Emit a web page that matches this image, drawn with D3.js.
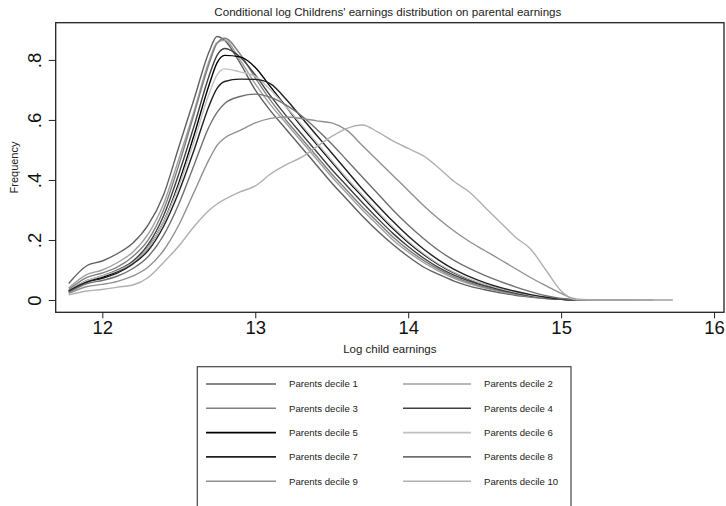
<!DOCTYPE html>
<html>
<head>
<meta charset="utf-8">
<script src="https://cdn.jsdelivr.net/npm/d3@7"></script>
<style>
html,body{margin:0;padding:0;background:#fff;}
svg{display:block;font-family:"Liberation Sans",Arial,Helvetica,sans-serif;}
</style>
</head>
<body>
<svg id="chart" width="726" height="506"></svg>
<script>
// ---- data ----
const xGrid = [11.78,11.9,12.0,12.1,12.2,12.3,12.4,12.5,12.6,12.7,12.75,12.8,12.9,13.0,13.1,13.2,13.3,13.4,13.5,13.6,13.7,13.8,13.9,14.0,14.1,14.2,14.3,14.4,14.5,14.6,14.7,14.8,14.9,15.0,15.1,15.3,15.5,15.73];

const decile1  = [0.055,0.115,0.13,0.155,0.19,0.25,0.35,0.51,0.67,0.83,0.878,0.865,0.79,0.70,0.63,0.57,0.51,0.45,0.39,0.335,0.28,0.23,0.185,0.145,0.11,0.085,0.063,0.046,0.034,0.024,0.016,0.01,0.005,0.002,0,0,0,0];
const decile2  = [0.04,0.085,0.1,0.125,0.16,0.22,0.32,0.47,0.63,0.8,0.858,0.865,0.8,0.72,0.65,0.59,0.53,0.47,0.41,0.355,0.3,0.25,0.2,0.16,0.125,0.096,0.072,0.054,0.04,0.028,0.019,0.012,0.006,0.002,0,0,0,0];
const decile3  = [0.035,0.075,0.09,0.11,0.145,0.2,0.3,0.45,0.62,0.79,0.855,0.872,0.82,0.74,0.665,0.6,0.54,0.48,0.42,0.365,0.31,0.26,0.21,0.168,0.132,0.102,0.077,0.058,0.043,0.031,0.021,0.013,0.006,0.002,0,0,0,0];
const decile4  = [0.03,0.065,0.08,0.1,0.13,0.185,0.28,0.42,0.58,0.75,0.815,0.838,0.81,0.75,0.68,0.615,0.555,0.495,0.435,0.38,0.325,0.272,0.222,0.178,0.14,0.108,0.083,0.063,0.047,0.034,0.023,0.014,0.007,0.002,0,0,0,0];
const decile5  = [0.028,0.06,0.075,0.095,0.125,0.175,0.26,0.39,0.55,0.72,0.79,0.815,0.81,0.775,0.71,0.645,0.58,0.52,0.46,0.4,0.345,0.29,0.238,0.192,0.152,0.118,0.09,0.068,0.051,0.037,0.025,0.016,0.008,0.003,0,0,0,0];
const decile6  = [0.03,0.065,0.08,0.098,0.125,0.175,0.26,0.38,0.53,0.69,0.75,0.77,0.76,0.745,0.7,0.645,0.585,0.525,0.465,0.405,0.35,0.295,0.243,0.196,0.155,0.12,0.092,0.07,0.052,0.038,0.026,0.016,0.008,0.003,0,0,0,0];
const decile7  = [0.03,0.06,0.072,0.09,0.12,0.165,0.245,0.36,0.5,0.65,0.705,0.728,0.736,0.735,0.72,0.67,0.61,0.55,0.49,0.43,0.37,0.315,0.262,0.213,0.17,0.133,0.102,0.078,0.058,0.042,0.029,0.018,0.009,0.003,0,0,0,0];
const decile8  = [0.025,0.055,0.065,0.08,0.105,0.145,0.215,0.32,0.45,0.58,0.625,0.655,0.678,0.686,0.675,0.65,0.615,0.57,0.52,0.465,0.41,0.355,0.3,0.25,0.205,0.165,0.132,0.105,0.082,0.062,0.044,0.028,0.014,0.005,0.001,0,0,0];
const decile9  = [0.022,0.045,0.052,0.062,0.08,0.11,0.165,0.25,0.36,0.47,0.515,0.54,0.565,0.59,0.605,0.61,0.605,0.597,0.59,0.565,0.515,0.465,0.415,0.365,0.315,0.27,0.23,0.195,0.165,0.135,0.105,0.075,0.048,0.022,0.003,0,0,0];
const decile10 = [0.017,0.03,0.035,0.043,0.05,0.075,0.125,0.18,0.245,0.3,0.32,0.335,0.36,0.38,0.42,0.45,0.475,0.51,0.545,0.572,0.583,0.56,0.53,0.505,0.48,0.44,0.395,0.36,0.31,0.26,0.21,0.17,0.1,0.03,0.001,0,0,0];

// last x of each curve's flat tail
const tailEnd = [15.3,15.35,15.4,15.45,15.5,15.73,15.5,15.6,15.6,15.73];

const seriesNames = ["Parents decile 1","Parents decile 2","Parents decile 3","Parents decile 4","Parents decile 5",
                     "Parents decile 6","Parents decile 7","Parents decile 8","Parents decile 9","Parents decile 10"];
const seriesValues = [decile1,decile2,decile3,decile4,decile5,decile6,decile7,decile8,decile9,decile10];
const seriesColors = ["#606060","#a0a0a0","#808080","#404040","#000000","#c0c0c0","#202020","#707070","#909090","#b0b0b0"];

const xTicks = [12,13,14,15,16];
const yTicks = [0,0.2,0.4,0.6,0.8];
const yTickLabels = ["0",".2",".4",".6",".8"];

const titleText = "Conditional log Childrens' earnings distribution on parental earnings";
const xTitle = "Log child earnings";
const yTitle = "Frequency";

// ---- layout ----
const svg = d3.select("#chart");
const plot = {left:55.7, right:724, top:22.7, bottom:312.3};

const x = d3.scaleLinear().domain([11.695,16.065]).range([plot.left, plot.right]);
const y = d3.scaleLinear().domain([-0.041,0.924]).range([plot.bottom, plot.top]);

// title
svg.append("text").attr("x",(plot.left+plot.right)/2 - 2).attr("y",16)
  .attr("text-anchor","middle").attr("font-size",11.6).attr("fill","#222").text(titleText);

// lines
const line = d3.line().x(d=>x(d[0])).y(d=>y(d[1])).curve(d3.curveMonotoneX);
const gLines = svg.append("g");
seriesValues.forEach((vals,i)=>{
  const pts = [];
  xGrid.forEach((xv,j)=>{ if (xv < tailEnd[i]) pts.push([xv, vals[j]]); });
  pts.push([tailEnd[i], 0]);
  gLines.append("path").datum(pts).attr("d",line)
    .attr("fill","none").attr("stroke",seriesColors[i]).attr("stroke-width",1.4)
    .attr("stroke-linejoin","round");
});

// frame
svg.append("rect").attr("x",plot.left).attr("y",plot.top)
  .attr("width",plot.right-plot.left).attr("height",plot.bottom-plot.top)
  .attr("fill","none").attr("stroke","#222").attr("stroke-width",1.3);

// x axis
const xAxis = d3.axisBottom(x).tickValues(xTicks).tickFormat(d3.format("d")).tickSize(6).tickPadding(3);
const gx = svg.append("g").attr("transform",`translate(0,${plot.bottom})`).call(xAxis);
gx.select(".domain").remove();
gx.selectAll(".tick line").attr("stroke","#222");
gx.selectAll(".tick text").attr("font-size",18.5).attr("fill","#111").attr("font-family","Liberation Sans, Arial, sans-serif");

// y axis
const yAxis = d3.axisLeft(y).tickValues(yTicks).tickFormat((d,i)=>yTickLabels[i]).tickSize(7);
const gy = svg.append("g").attr("transform",`translate(${plot.left},0)`).call(yAxis);
gy.select(".domain").remove();
gy.selectAll(".tick line").attr("stroke","#222");
gy.selectAll(".tick text")
  .attr("font-size",18.5).attr("fill","#111").attr("font-family","Liberation Sans, Arial, sans-serif")
  .attr("x",null).attr("dy",null)
  .attr("text-anchor","middle")
  .attr("transform","translate(-15,0) rotate(-90)");

// axis titles
svg.append("text").attr("x",(plot.left+plot.right)/2).attr("y",353)
  .attr("text-anchor","middle").attr("font-size",11.5).attr("fill","#222").text(xTitle);
svg.append("text").attr("transform",`translate(18,${(plot.top+plot.bottom)/2}) rotate(-90)`)
  .attr("text-anchor","middle").attr("font-size",11).attr("fill","#222").text(yTitle);

// legend
const leg = {left:197.3, top:366.7, right:571};
svg.append("rect").attr("x",leg.left).attr("y",leg.top).attr("width",leg.right-leg.left).attr("height",200)
  .attr("fill","#fff").attr("stroke","#444").attr("stroke-width",1.2);
const colX = [{l0:206,l1:276,t:289},{l0:403,l1:471,t:484}];
const rowY = d3.scaleLinear().domain([0,1]).range([384,408.3]);
seriesNames.forEach((name,i)=>{
  const c = colX[i%2], r = Math.floor(i/2), yy = rowY(r);
  svg.append("line").attr("x1",c.l0).attr("x2",c.l1).attr("y1",yy).attr("y2",yy)
    .attr("stroke",seriesColors[i]).attr("stroke-width",1.6);
  svg.append("text").attr("x",c.t).attr("y",yy).attr("dy","0.35em")
    .attr("font-size",9.6).attr("fill","#222").text(name);
});
</script>
</body>
</html>
